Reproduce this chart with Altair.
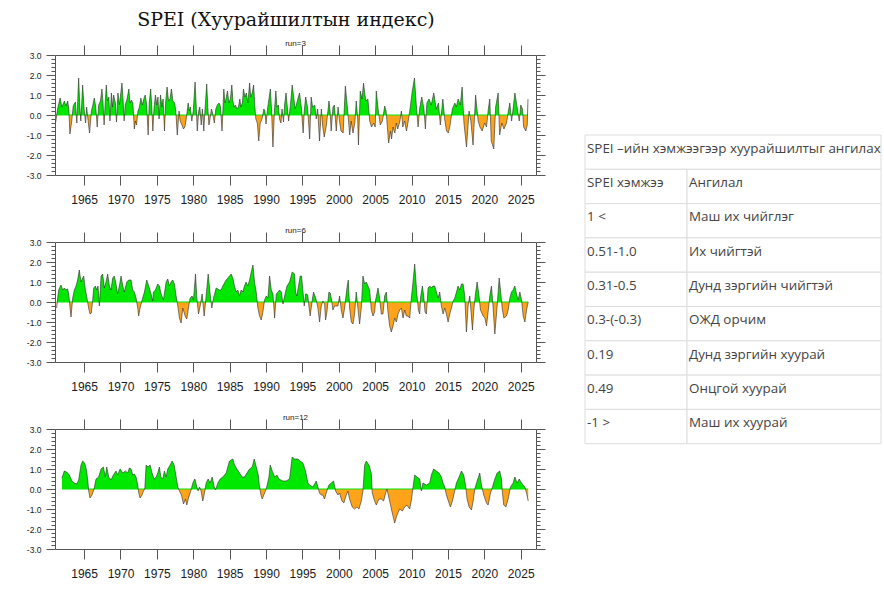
import altair as alt
import pandas as pd

# ---------------- text ----------------
TITLE = "SPEI (Хуурайшилтын индекс)"
RUN_LABELS = ["run=3", "run=6", "run=12"]
YEAR_TICKS = [1965, 1970, 1975, 1980, 1985, 1990, 1995, 2000, 2005, 2010, 2015, 2020, 2025]

TABLE_HEADER = "SPEI –ийн хэмжээгээр хуурайшилтыг ангилах"
TABLE_RANGE = ["SPEI хэмжээ", "1 <", "0.51-1.0", "0.31-0.5", "0.3-(-0.3)", "0.19", "0.49", "-1 >"]
TABLE_CLASS = ["Ангилал", "Маш их чийглэг", "Их чийгтэй", "Дунд зэргийн чийгтэй",
               "ОЖД орчим", "Дунд зэргийн хуурай", "Онцгой хуурай", "Маш их хуурай"]

# ---------------- SPEI series: (year, index) ----------------
RUN3 = [
    (1961.1, -0.35), (1961.35, 0.3), (1961.7, 0.85), (1961.95, 0.4), (1962.3, 0.7), (1962.5, 0.45),
    (1962.75, 0.7), (1962.9, 0.3), (1963.05, -0.95), (1963.3, -0.3), (1963.5, 0.45), (1963.8, 0.65),
    (1964.0, -0.4), (1964.25, 1.85), (1964.4, 0.5), (1964.55, -0.3), (1964.8, 1.5), (1965.0, 0.3),
    (1965.2, -0.4), (1965.35, 0.4), (1965.55, -0.3), (1965.75, -0.9), (1966.0, 0.2), (1966.2, 0.5),
    (1966.4, 0.85), (1966.6, 0.4), (1966.8, -0.6), (1967.0, 0.5), (1967.25, 0.7), (1967.45, 1.3),
    (1967.6, 0.6), (1967.75, -0.5), (1967.9, 0.6), (1968.05, 1.5), (1968.2, 0.7), (1968.4, 0.9),
    (1968.55, -0.3), (1968.75, 1.1), (1968.9, 0.4), (1969.05, 1.0), (1969.3, 0.6), (1969.45, -0.35),
    (1969.65, 1.1), (1969.85, 0.5), (1970.2, 1.6), (1970.35, 0.8), (1970.5, -0.3), (1970.65, 0.5),
    (1970.9, 0.8), (1971.15, 1.3), (1971.3, 0.6), (1971.5, 0.75), (1971.7, 0.6), (1971.9, -0.7),
    (1972.05, -0.3), (1972.2, -0.5), (1972.4, 0.2), (1972.6, 0.4), (1972.8, 0.85), (1973.0, 0.5),
    (1973.2, 0.8), (1973.4, 1.0), (1973.6, 0.5), (1973.8, -1.0), (1973.95, 0.6), (1974.15, 1.3),
    (1974.3, 0.4), (1974.45, -0.8), (1974.6, 0.3), (1974.8, 1.0), (1975.0, 0.5), (1975.15, 0.9),
    (1975.3, -0.2), (1975.5, 1.0), (1975.7, 0.4), (1975.85, 0.8), (1976.05, -0.8), (1976.2, 0.6),
    (1976.4, 1.4), (1976.6, 0.7), (1976.8, 0.8), (1977.0, 1.3), (1977.2, 0.7), (1977.45, 0.6),
    (1977.6, 0.2), (1977.8, -1.0), (1978.05, 0.2), (1978.2, -0.3), (1978.45, -0.5), (1978.65, -0.7),
    (1978.85, -0.6), (1979.0, -0.3), (1979.3, 0.6), (1979.45, 0.2), (1979.6, 0.4), (1979.8, -0.3),
    (1980.0, 0.2), (1980.25, 1.65), (1980.4, 0.5), (1980.55, -0.8), (1980.75, 0.2), (1980.9, 0.4),
    (1981.1, -0.5), (1981.25, 0.3), (1981.45, -0.8), (1981.6, 0.2), (1981.85, 1.55), (1982.0, 0.4),
    (1982.15, -0.5), (1982.3, -0.2), (1982.5, 0.3), (1982.65, 0.1), (1982.9, -0.4), (1983.1, 0.3),
    (1983.3, 0.5), (1983.55, 0.6), (1983.75, 0.4), (1983.95, -0.8), (1984.2, 1.3), (1984.35, 0.6),
    (1984.5, 0.8), (1984.7, 1.2), (1984.9, 0.6), (1985.1, 0.8), (1985.3, 1.5), (1985.45, 0.7),
    (1985.6, 0.4), (1985.8, 0.5), (1986.0, 0.3), (1986.2, 0.4), (1986.4, 0.8), (1986.55, 0.4),
    (1986.75, 0.6), (1986.9, 1.3), (1987.1, 0.9), (1987.3, 1.1), (1987.5, 0.6), (1987.75, 1.6),
    (1987.9, 0.9), (1988.1, 1.1), (1988.3, 1.5), (1988.45, 0.5), (1988.6, -0.2), (1988.8, -0.4),
    (1989.0, -1.3), (1989.2, -0.4), (1989.45, -0.2), (1989.7, 0.3), (1989.85, 0.2), (1990.0, -0.45),
    (1990.2, 0.3), (1990.6, 1.3), (1990.75, 0.3), (1990.95, -1.6), (1991.15, 0.2), (1991.35, 1.2),
    (1991.5, 0.4), (1991.7, 0.5), (1991.85, -0.2), (1992.05, -0.4), (1992.2, 0.3), (1992.4, -0.35),
    (1992.55, 0.5), (1992.75, 1.1), (1992.9, 0.5), (1993.1, -0.3), (1993.35, 0.5), (1993.6, 1.5),
    (1994.0, 0.3), (1994.6, 1.1), (1994.85, 0.4), (1995.1, -0.9), (1995.25, 0.2), (1995.45, 0.9),
    (1995.7, 0.4), (1996.0, -1.2), (1996.2, 0.9), (1996.4, 0.4), (1996.7, 0.5), (1996.9, -0.2),
    (1997.1, 0.3), (1997.35, -1.3), (1997.6, 0.3), (1997.8, -0.6), (1998.0, -1.1), (1998.3, -0.5),
    (1998.65, 0.7), (1998.8, 0.2), (1998.95, -0.8), (1999.2, 0.4), (1999.4, 0.5), (1999.65, -0.8),
    (1999.9, 0.4), (2000.1, -0.3), (2000.3, -0.8), (2000.6, -0.9), (2000.75, 0.3), (2000.9, 1.45),
    (2001.2, 0.3), (2001.5, -1.0), (2001.7, -0.3), (2001.95, -0.9), (2002.2, -0.4), (2002.4, 0.7),
    (2002.6, -0.2), (2002.7, -1.5), (2002.95, 1.2), (2003.2, 0.8), (2003.4, 1.6), (2003.7, 0.7),
    (2004.0, 0.8), (2004.25, -0.3), (2004.5, -0.6), (2004.8, -0.4), (2005.0, -0.6), (2005.15, 1.2),
    (2005.4, 0.3), (2005.7, -0.5), (2006.0, -0.3), (2006.3, 0.45), (2006.5, 0.2), (2006.85, -1.4),
    (2007.1, -0.8), (2007.25, -1.2), (2007.45, -0.6), (2007.7, -0.9), (2007.9, -0.4), (2008.1, -0.7),
    (2008.4, -0.3), (2008.6, 0.2), (2008.8, -0.6), (2009.05, -0.3), (2009.3, -0.8), (2009.5, -0.4),
    (2009.75, 0.2), (2010.1, 1.2), (2010.4, 1.85), (2010.65, 0.5), (2010.9, -0.6), (2011.1, 0.3),
    (2011.4, 0.9), (2011.7, 0.3), (2011.9, -0.7), (2012.1, 0.6), (2012.4, 0.8), (2012.7, 0.5),
    (2013.05, 1.1), (2013.4, 0.3), (2013.7, 0.6), (2013.95, -0.5), (2014.3, 0.8), (2014.55, -0.2),
    (2014.8, -0.8), (2015.05, -0.9), (2015.3, -0.5), (2015.6, 0.3), (2015.95, 0.6), (2016.15, 0.4),
    (2016.4, 0.8), (2016.7, 0.5), (2016.95, 1.4), (2017.2, -0.4), (2017.55, -1.6), (2017.9, 0.2),
    (2018.15, -0.3), (2018.45, -1.5), (2018.8, 1.0), (2019.15, -0.3), (2019.4, -0.6), (2019.7, -0.8),
    (2020.05, -0.4), (2020.3, -0.6), (2020.55, 0.3), (2020.75, 0.8), (2020.95, -1.3), (2021.3, -1.7),
    (2021.55, 0.4), (2021.9, 1.1), (2022.1, -1.0), (2022.4, -0.4), (2022.7, -0.7), (2023.05, -0.4),
    (2023.3, 0.2), (2023.5, 0.6), (2023.75, -0.3), (2023.95, 0.3), (2024.2, 1.1), (2024.5, 0.4),
    (2024.8, -0.3), (2025.0, 0.5), (2025.25, 0.3), (2025.4, -0.6), (2025.7, -0.8), (2025.9, -0.5),
    (2026.0, 0.8),
]

RUN6 = [
    (1961.22, -0.3), (1961.5, 0.6), (1961.82, 0.85), (1962.05, 0.6), (1962.28, 0.7), (1962.5, 0.6),
    (1962.74, 0.65), (1962.88, 0.4), (1963.2, -0.75), (1963.43, 0.2), (1963.66, 0.6), (1963.89, 0.8),
    (1964.11, 1.1), (1964.34, 1.6), (1964.57, 1.0), (1964.94, 1.3), (1965.17, 0.6), (1965.35, 0.3),
    (1965.62, -0.3), (1965.81, -0.6), (1965.99, -0.55), (1966.18, 0.1), (1966.32, 0.7), (1966.55, 0.8),
    (1966.73, 0.6), (1966.91, 0.8), (1967.1, -0.2), (1967.33, 1.3), (1967.55, 1.4), (1967.78, 0.7),
    (1968.01, 1.0), (1968.24, 1.4), (1968.47, 0.8), (1968.7, 0.6), (1968.93, 1.2), (1969.15, 1.3),
    (1969.38, 0.9), (1969.61, 0.4), (1969.85, 0.8), (1970.08, 1.3), (1970.31, 0.8), (1970.54, 0.5),
    (1970.86, 1.0), (1971.13, 1.1), (1971.45, 1.1), (1971.68, 0.6), (1971.91, 0.5), (1972.14, 0.2),
    (1972.37, -0.3), (1972.5, -0.7), (1972.69, -0.3), (1972.97, 0.1), (1973.29, 0.5), (1973.61, 1.1),
    (1973.88, 0.8), (1974.2, 0.4), (1974.43, 0.05), (1974.52, 0.5), (1974.8, 0.6), (1975.12, 0.9),
    (1975.35, 0.8), (1975.58, 0.4), (1975.9, 0.1), (1976.27, 1.0), (1976.5, 1.15), (1976.72, 0.8),
    (1976.95, 1.0), (1977.18, 1.1), (1977.41, 0.9), (1977.64, 0.3), (1977.88, -0.2), (1978.1, -0.8),
    (1978.33, -1.05), (1978.56, -0.3), (1978.93, -0.75), (1979.11, -0.85), (1979.38, -0.2), (1979.57, 0.2),
    (1979.84, 0.3), (1980.03, 0.1), (1980.31, 1.4), (1980.49, 0.2), (1980.72, -0.6), (1980.95, -0.2),
    (1981.22, 0.4), (1981.5, -0.7), (1981.77, 0.3), (1982.05, 1.4), (1982.32, 0.4), (1982.55, -0.3),
    (1982.78, 0.2), (1983.15, 0.7), (1983.6, 0.6), (1983.83, 0.6), (1984.06, 0.8), (1984.52, 1.1),
    (1984.98, 1.3), (1985.2, 1.4), (1985.43, 1.2), (1985.66, 0.8), (1985.89, 0.5), (1986.12, 0.6),
    (1986.35, 0.3), (1986.58, 0.6), (1986.81, 0.5), (1987.03, 0.8), (1987.26, 1.0), (1987.49, 0.8),
    (1987.74, 1.1), (1987.97, 1.5), (1988.2, 1.85), (1988.42, 1.0), (1988.65, 0.5), (1988.88, -0.3),
    (1989.11, -0.7), (1989.34, -0.9), (1989.57, -0.5), (1989.8, 0.1), (1990.03, 0.3), (1990.26, 0.2),
    (1990.49, 1.3), (1990.72, 0.6), (1990.95, 0.4), (1991.18, -0.8), (1991.41, 0.4), (1991.87, 0.6),
    (1992.1, 0.5), (1992.33, -0.1), (1992.55, 0.3), (1992.88, 0.8), (1993.24, 1.0), (1993.6, 1.5),
    (1993.92, 1.4), (1994.06, 0.5), (1994.24, 0.3), (1994.51, 0.9), (1994.7, 1.3), (1994.88, 1.3),
    (1995.06, 0.6), (1995.25, -0.2), (1995.43, 0.4), (1995.62, 0.4), (1995.75, 0.3), (1995.89, -0.2),
    (1996.07, -0.7), (1996.35, 0.1), (1996.53, 0.5), (1996.72, 0.3), (1996.9, 0.1), (1997.13, -0.3),
    (1997.36, -1.0), (1997.59, -0.2), (1997.82, 0.05), (1998.05, -0.1), (1998.18, -0.9), (1998.37, -0.5),
    (1998.64, 0.5), (1998.83, 0.45), (1999.01, 0.1), (1999.19, -0.4), (1999.42, -0.2), (1999.88, -0.2),
    (2000.11, 0.3), (2000.34, -0.4), (2000.57, -0.8), (2000.8, -0.3), (2001.12, 0.7), (2001.3, 1.1),
    (2001.49, -0.3), (2001.72, -1.0), (2001.95, -1.1), (2002.17, -0.6), (2002.4, 0.5), (2002.63, -0.3),
    (2002.86, -1.1), (2003.09, -0.3), (2003.32, 1.3), (2003.55, 0.9), (2003.78, 1.0), (2004.01, 0.8),
    (2004.24, 0.6), (2004.47, -0.4), (2004.7, -0.7), (2004.93, -0.5), (2005.06, 0.1), (2005.39, 0.7),
    (2005.61, 0.2), (2005.84, -0.6), (2006.07, -0.6), (2006.3, 0.3), (2006.53, 0.5), (2006.76, -0.5),
    (2006.99, -1.2), (2007.22, -1.5), (2007.45, -1.2), (2007.68, -0.8), (2007.91, -1.0), (2008.14, -0.6),
    (2008.37, -0.4), (2008.6, -0.3), (2008.83, -0.8), (2009.06, -0.4), (2009.28, -0.7), (2009.51, -0.7),
    (2009.74, -0.8), (2009.97, 0.2), (2010.2, 1.0), (2010.43, 1.9), (2010.57, 1.2), (2010.75, 0.3),
    (2010.94, -0.4), (2011.12, -0.6), (2011.26, 0.3), (2011.49, 0.8), (2011.67, 0.3), (2011.85, -0.5),
    (2012.04, -0.6), (2012.27, 0.7), (2012.5, 0.8), (2012.72, 0.7), (2012.95, 0.8), (2013.18, 0.8),
    (2013.41, 0.5), (2013.64, 0.2), (2013.87, 0.5), (2014.1, -0.2), (2014.33, -0.6), (2014.56, -0.3),
    (2014.79, -0.6), (2015.02, -1.0), (2015.25, -0.6), (2015.48, -0.3), (2015.71, 0.05), (2015.94, 0.2),
    (2016.17, 0.5), (2016.39, 0.8), (2016.62, 0.6), (2016.85, 0.9), (2017.08, 0.9), (2017.31, 0.3),
    (2017.54, -1.5), (2017.77, -0.2), (2018.0, 0.3), (2018.37, -1.4), (2018.55, -0.4), (2018.78, 0.4),
    (2019.01, 1.0), (2019.24, 0.4), (2019.47, -0.4), (2019.84, -0.7), (2020.07, -0.8), (2020.3, -1.2),
    (2020.52, -0.5), (2020.75, 0.3), (2020.98, 0.8), (2021.21, -0.3), (2021.44, -1.6), (2021.76, -0.2),
    (2022.04, 1.2), (2022.22, 0.6), (2022.45, -0.3), (2022.68, -0.8), (2023.05, -0.7), (2023.28, -0.4),
    (2023.51, 0.2), (2023.73, 0.5), (2023.96, 0.6), (2024.19, 0.8), (2024.42, 0.4), (2024.65, 0.1),
    (2024.88, 0.5), (2025.11, 0.1), (2025.34, -0.7), (2025.57, -1.0), (2025.8, -0.4), (2026.03, 0.0),
]

RUN12 = [
    (1961.96, 0.55), (1962.28, 0.9), (1962.6, 0.85), (1962.97, 0.7), (1963.33, 0.4), (1963.66, 0.3),
    (1963.98, 0.25), (1964.25, 0.45), (1964.57, 1.2), (1964.8, 1.4), (1965.08, 1.3), (1965.35, 0.9),
    (1965.54, 0.3), (1965.63, -0.1), (1965.81, -0.45), (1966.09, -0.3), (1966.36, 0.0), (1966.64, 0.5),
    (1967.0, 0.6), (1967.33, 1.0), (1967.65, 1.1), (1967.92, 0.6), (1968.11, 1.1), (1968.38, 0.6),
    (1968.7, 0.45), (1969.02, 0.7), (1969.39, 0.9), (1969.61, 0.7), (1969.94, 1.0), (1970.31, 0.8),
    (1970.67, 0.9), (1970.99, 0.8), (1971.22, 1.05), (1971.45, 1.0), (1971.68, 0.7), (1971.91, 0.75),
    (1972.14, 0.6), (1972.37, 0.2), (1972.51, -0.2), (1972.69, -0.45), (1972.97, -0.3), (1973.15, -0.1),
    (1973.34, 0.0), (1973.52, 1.2), (1973.79, 1.1), (1974.07, 1.2), (1974.34, 0.8), (1974.62, 0.5),
    (1974.9, 0.6), (1975.12, 0.8), (1975.35, 1.1), (1975.54, 0.6), (1975.81, 0.5), (1976.04, 0.9),
    (1976.27, 0.6), (1976.5, 1.0), (1976.82, 1.2), (1977.1, 1.4), (1977.37, 1.2), (1977.65, 0.6),
    (1977.88, 0.1), (1978.1, -0.1), (1978.38, -0.3), (1978.66, -0.75), (1978.93, -0.5), (1979.11, -0.8),
    (1979.38, -0.4), (1979.66, -0.1), (1979.94, 0.3), (1980.22, 0.5), (1980.49, 0.1), (1980.67, -0.1),
    (1980.86, 0.1), (1981.08, -0.1), (1981.31, -0.6), (1981.59, -0.1), (1981.77, 0.3), (1982.05, 0.5),
    (1982.32, 0.3), (1982.6, 0.6), (1982.88, 0.1), (1983.06, -0.05), (1983.38, 0.3), (1983.7, 0.5),
    (1984.06, 0.6), (1984.52, 0.8), (1984.98, 1.4), (1985.44, 1.5), (1985.67, 1.2), (1985.99, 1.0),
    (1986.36, 0.8), (1986.72, 0.6), (1987.04, 0.6), (1987.37, 0.8), (1987.74, 1.0), (1988.1, 1.1),
    (1988.38, 1.5), (1988.66, 1.1), (1988.93, 0.7), (1989.11, 0.1), (1989.3, -0.3), (1989.48, -0.5),
    (1989.8, -0.2), (1990.03, 0.0), (1990.4, 0.6), (1990.58, 1.2), (1990.85, 0.9), (1991.18, 0.6),
    (1991.5, 0.7), (1991.77, 0.5), (1992.31, 0.4), (1992.77, 0.4), (1993.23, 0.5), (1993.59, 1.6),
    (1993.91, 1.5), (1994.37, 1.5), (1994.69, 1.4), (1995.06, 1.3), (1995.43, 0.9), (1995.75, 0.3),
    (1995.98, 0.2), (1996.44, 0.1), (1996.9, 0.4), (1997.13, 0.1), (1997.35, -0.2), (1997.58, -0.3),
    (1997.81, -0.3), (1998.04, -0.5), (1998.27, -0.2), (1998.64, 0.2), (1998.96, 0.3), (1999.28, 0.4),
    (1999.56, -0.1), (1999.88, -0.3), (2000.11, -0.2), (2000.43, -0.6), (2000.7, -0.7), (2000.93, -0.4),
    (2001.25, -0.1), (2001.48, -0.5), (2001.85, -0.9), (2002.17, -1.0), (2002.49, -0.9), (2002.77, -1.0),
    (2003.09, -0.6), (2003.32, -0.1), (2003.55, 1.2), (2003.78, 1.4), (2004.14, 1.2), (2004.46, 0.8),
    (2004.6, -0.2), (2004.92, -0.6), (2005.15, -0.8), (2005.52, -0.5), (2005.84, -0.5), (2006.16, -0.6),
    (2006.44, -0.2), (2006.62, 0.0), (2006.99, -0.6), (2007.35, -1.2), (2007.68, -1.7), (2008.0, -1.3),
    (2008.36, -1.0), (2008.73, -1.1), (2009.05, -0.9), (2009.37, -0.8), (2009.74, -1.0), (2010.0, -0.5),
    (2010.2, 0.1), (2010.43, 0.7), (2010.75, 0.6), (2011.12, 0.5), (2011.35, -0.1), (2011.57, 0.3),
    (2012.03, 0.2), (2012.49, 0.3), (2012.72, 0.7), (2013.04, 1.0), (2013.41, 0.9), (2013.78, 0.8),
    (2014.1, 0.6), (2014.33, 0.3), (2014.56, 0.1), (2014.79, -0.3), (2015.06, -0.6), (2015.34, -0.9),
    (2015.61, -0.6), (2015.93, -0.1), (2016.16, 0.3), (2016.53, 0.6), (2016.85, 0.9), (2017.17, 0.7),
    (2017.45, 0.1), (2017.63, -0.5), (2017.91, -0.9), (2018.23, -1.05), (2018.46, -0.6), (2018.69, 0.0),
    (2019.01, 0.4), (2019.37, 0.8), (2019.6, 0.2), (2019.92, -0.3), (2020.29, -0.7), (2020.52, -0.8),
    (2020.84, -0.2), (2021.12, 0.1), (2021.44, 0.5), (2021.76, 0.8), (2022.12, 0.9), (2022.35, 0.5),
    (2022.49, -0.2), (2022.67, -0.8), (2022.95, -0.9), (2023.27, -0.5), (2023.59, 0.1), (2023.96, 0.3),
    (2024.19, 0.6), (2024.51, 0.3), (2024.79, 0.5), (2025.11, 0.3), (2025.34, 0.2), (2025.56, 0.1),
    (2025.8, -0.2), (2026.03, -0.6),
]

SERIES = [RUN3, RUN6, RUN12]

# ---------------- styling ----------------
SANS = "Liberation Sans"
WET = "#00e800"
DRY = "#ffa31a"
OUTLINE = "#2b2b2b"
FRAME = "#555555"
INK = "#1a1a1a"

PANEL_W, PANEL_H = 481, 120
X_DOMAIN = [1961, 2027.1]
Y_TICKS = [round(-3 + 0.2 * i, 1) for i in range(31)]
IS_MAJOR = "abs(datum.value - round(datum.value)) < 0.001"


def split_at_zero(pairs):
    """Insert the zero crossings so the wet and dry fills meet the outline."""
    rows = []
    for (t0, v0), (t1, v1) in zip(pairs[:-1], pairs[1:]):
        rows.append((t0, v0))
        if v0 * v1 < 0:
            rows.append((t0 + (t1 - t0) * v0 / (v0 - v1), 0.0))
    rows.append(pairs[-1])
    df = pd.DataFrame(rows, columns=["year", "spei"])
    df["wet"] = df["spei"].clip(lower=0)
    df["dry"] = df["spei"].clip(upper=0)
    return df


def y_axis(orient, labels):
    kw = dict(
        orient=orient, values=Y_TICKS, title=None, grid=False,
        domainColor=FRAME, tickColor=FRAME, domainWidth=1, tickWidth=1,
        tickSize={"condition": {"test": IS_MAJOR, "value": 9}, "value": 4},
        labelOverlap=False,
    )
    if labels:
        kw.update(
            labelExpr=f"{IS_MAJOR} ? (datum.value < 0 ? '-' : '') + format(abs(datum.value), '.1f') : ''",
            labelFont=SANS, labelFontSize=8.5, labelColor=INK, labelPadding=5,
        )
    else:
        kw.update(labels=False)
    return alt.Axis(**kw)


def x_axis(orient, labels):
    kw = dict(
        orient=orient, values=YEAR_TICKS, title=None, grid=False,
        domainColor=FRAME, tickColor=FRAME, domainWidth=1, tickWidth=1, tickSize=10,
    )
    if labels:
        kw.update(format="d", labelFont=SANS, labelFontSize=12, labelColor=INK,
                  labelPadding=9, labelFlush=False)
    else:
        kw.update(labels=False)
    return alt.Axis(**kw)


def panel(pairs, label):
    df = split_at_zero(pairs)
    xs = alt.Scale(domain=X_DOMAIN, nice=False, zero=False)
    ys = alt.Scale(domain=[-3, 3], nice=False)
    base = alt.Chart(df)

    wet = base.mark_area(color=WET).encode(
        x=alt.X("year:Q", scale=xs, axis=x_axis("bottom", True)),
        y=alt.Y("wet:Q", scale=ys, axis=y_axis("left", True)),
    )
    dry = base.mark_area(color=DRY).encode(
        x=alt.X("year:Q", scale=xs, axis=x_axis("top", False)),
        y=alt.Y("dry:Q", scale=ys, axis=y_axis("right", False)),
    )
    zero = (
        base.transform_aggregate(lo="min(year)", hi="max(year)")
        .transform_calculate(zero="0")
        .mark_rule(color=WET, strokeWidth=1)
        .encode(
            x=alt.X("lo:Q", scale=xs, axis=None),
            x2="hi:Q",
            y=alt.Y("zero:Q", scale=ys, axis=None),
        )
    )
    outline = base.mark_line(color=OUTLINE, strokeWidth=0.6).encode(
        x=alt.X("year:Q", scale=xs, axis=None),
        y=alt.Y("spei:Q", scale=ys, axis=None),
    )
    return (
        alt.layer(wet, dry, zero, outline)
        .resolve_axis(x="independent", y="independent")
        .properties(
            width=PANEL_W, height=PANEL_H,
            title=alt.TitleParams(label, font=SANS, fontSize=8, fontWeight="normal",
                                  color=INK, anchor="middle", offset=-9, baseline="alphabetic"),
        )
    )


panels = alt.vconcat(
    *[panel(s, lab) for s, lab in zip(SERIES, RUN_LABELS)], spacing=21
).properties(
    title=alt.TitleParams(TITLE, font="DejaVu Serif", fontSize=19, fontWeight="normal",
                          color="#111111", anchor="middle", offset=10)
)

# ---------------- classification table ----------------
TABLE_W = 296
ROW_H = 34.3
TABLE_TOP = 80
COL_SPLIT = 102 / TABLE_W
TEXT_POS = 0.4

cells = [{"row": 0, "left": 0.0, "right": 1.0, "text": TABLE_HEADER}]
for i, (a, b) in enumerate(zip(TABLE_RANGE, TABLE_CLASS), start=1):
    cells.append({"row": i, "left": 0.0, "right": COL_SPLIT, "text": a})
    cells.append({"row": i, "left": COL_SPLIT, "right": 1.0, "text": b})
tdf = pd.DataFrame(cells)
tdf["row_end"] = tdf["row"] + 1
tdf["text_y"] = tdf["row"] + TEXT_POS
n_rows = int(tdf["row_end"].max())

tx = alt.Scale(domain=[0, 1], nice=False, zero=False)
ty = alt.Scale(domain=[0, n_rows], range=[TABLE_TOP, TABLE_TOP + n_rows * ROW_H], nice=False, zero=False)

cell_boxes = alt.Chart(tdf).mark_rect(fill="white", stroke="#dddddd", strokeWidth=1).encode(
    x=alt.X("left:Q", scale=tx, axis=None), x2="right:Q",
    y=alt.Y("row:Q", scale=ty, axis=None), y2="row_end:Q",
)
cell_text = alt.Chart(tdf).mark_text(
    align="left", baseline="middle", dx=2, font="Open Sans", fontSize=13.4, color="#444444"
).encode(
    x=alt.X("left:Q", scale=tx, axis=None),
    y=alt.Y("text_y:Q", scale=ty, axis=None),
    text="text:N",
)
table = alt.layer(cell_boxes, cell_text).properties(
    width=TABLE_W, height=TABLE_TOP + n_rows * ROW_H + 2
)

chart = (
    alt.hconcat(panels, table, spacing=38)
    .properties(padding={"left": 26, "top": 10, "right": 0, "bottom": 0}, background="white")
    .configure_view(stroke=None)
)

chart.save("out.html", embed_options={"renderer": "svg", "actions": False})
